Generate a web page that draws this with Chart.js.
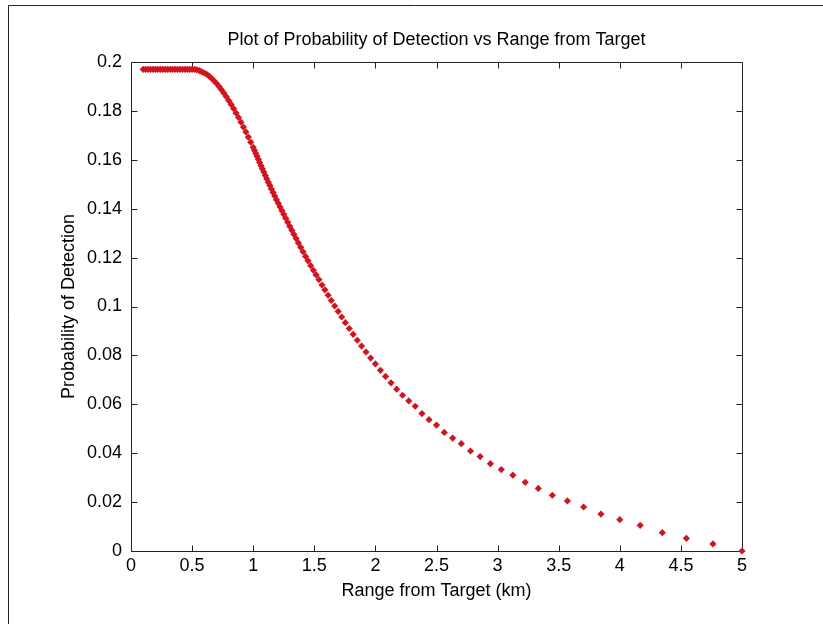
<!DOCTYPE html>
<html><head><meta charset="utf-8">
<script src="https://cdn.jsdelivr.net/npm/chart.js@4.4.0/dist/chart.umd.min.js"></script>
<style>html,body{margin:0;padding:0;background:#fff;}#wrap{position:relative;width:823px;height:624px;}</style>
</head><body><div id="wrap"><canvas id="c" width="823" height="624"></canvas></div>
<script>
const rangeKm = [
  0.10,0.12,0.14,0.16,0.18,0.20,0.22,0.24,0.26,0.28,0.30,0.32,0.34,0.36,0.38,0.40,0.42,0.44,0.46,0.48,0.50,0.52,
  0.54,0.56,0.58,0.60,0.62,0.64,0.66,0.68,0.70,0.72,0.74,0.76,0.78,0.80,0.82,0.84,0.86,0.88,0.90,0.92,0.94,0.96,0.98,
  1.000,1.010,1.020,1.031,1.042,1.053,1.064,1.075,1.087,1.099,1.111,1.124,1.136,1.149,1.163,1.176,1.190,1.205,1.220,1.235,
  1.250,1.266,1.282,1.299,1.316,1.333,1.351,1.370,1.389,1.408,1.429,1.449,1.471,1.493,1.515,1.538,1.563,1.587,1.613,1.639,
  1.667,1.695,1.724,1.754,1.786,1.818,1.852,1.887,1.923,1.961,2.000,2.041,2.083,2.128,2.174,
  2.222,2.273,2.326,2.381,2.439,2.500,2.564,2.632,2.703,2.778,2.857,2.941,3.030,3.125,3.226,3.333,3.448,3.571,3.704,3.846,
  4.000,4.167,4.348,4.545,4.762,5.000
];
const probDetection = [
  0.197,0.197,0.197,0.197,0.197,0.197,0.197,0.197,0.197,0.197,0.197,0.197,0.197,0.197,0.197,0.197,0.197,0.197,0.197,0.197,0.197,0.197,
  0.1968,0.1965,0.1960,0.1955,0.1950,0.1942,0.1933,0.1923,0.1912,0.1900,0.1887,0.1873,0.1858,0.1842,0.1826,0.1809,0.1791,0.1773,0.1754,0.1734,0.1714,0.1693,0.1672,
  0.1651,0.1639,0.1627,0.1615,0.1602,0.1589,0.1576,0.1563,0.1550,0.1536,0.1522,0.1508,0.1495,0.1481,0.1466,0.1452,0.1437,0.1422,0.1407,0.1392,
  0.1377,0.1361,0.1345,0.1328,0.1312,0.1295,0.1278,0.1260,0.1242,0.1224,0.1205,0.1187,0.1167,0.1148,0.1129,0.1110,0.1088,0.1068,0.1046,0.1025,
  0.1002,0.0980,0.0957,0.0934,0.0910,0.0886,0.0862,0.0838,0.0814,0.0789,0.0765,0.0739,0.0714,0.0688,0.0662,
  0.0637,0.0614,0.0592,0.0562,0.0537,0.0515,0.0485,0.0462,0.0439,0.0409,0.0386,0.0357,0.0333,0.0310,0.0281,0.0256,0.0228,0.0205,0.0180,0.0151,
  0.0128,0.0105,0.0075,0.0052,0.0029,0.0000
];
const xTicks = [0,0.5,1,1.5,2,2.5,3,3.5,4,4.5,5];
const xTickLabels = ['0','0.5','1','1.5','2','2.5','3','3.5','4','4.5','5'];
const yTicks = [0,0.02,0.04,0.06,0.08,0.1,0.12,0.14,0.16,0.18,0.2];
const yTickLabels = ['0','0.02','0.04','0.06','0.08','0.1','0.12','0.14','0.16','0.18','0.2'];
const chartTitle = 'Plot of Probability of Detection vs Range from Target';
const xTitle = 'Range from Target (km)';
const yTitle = 'Probability of Detection';

const FONT = {family:"'Liberation Sans', Arial, sans-serif", size:18, weight:'normal', lineHeight:1.2};
function labelFrom(ticks, labels, v){
  for (let i=0;i<ticks.length;i++) if (Math.abs(ticks[i]-v)<1e-9) return labels[i];
  return '';
}
const framePlugin = {
  id:'frame',
  beforeDraw(chart){
    const ctx = chart.ctx;
    ctx.save();
    ctx.strokeStyle = '#222'; ctx.lineWidth = 1;
    ctx.beginPath();
    ctx.moveTo(8.5, 624); ctx.lineTo(8.5, 5.5); ctx.lineTo(823, 5.5);
    ctx.stroke();
    ctx.restore();
  },
  beforeDatasetsDraw(chart){
    const {ctx, chartArea:a, scales:{x, y}} = chart;
    const L = Math.round(a.left)+0.5, R = Math.round(a.right)+0.5, T = Math.round(a.top)+0.5, B = Math.round(a.bottom)+0.5;
    const tl = 6;
    ctx.save();
    ctx.strokeStyle = '#222'; ctx.lineWidth = 1;
    ctx.beginPath();
    ctx.rect(L, T, R-L, B-T);
    xTicks.forEach(v => {
      const px = Math.round(x.getPixelForValue(v))+0.5;
      ctx.moveTo(px, B); ctx.lineTo(px, B-tl);
      ctx.moveTo(px, T); ctx.lineTo(px, T+tl);
    });
    yTicks.forEach(v => {
      const py = Math.round(y.getPixelForValue(v))+0.5;
      ctx.moveTo(L, py); ctx.lineTo(L+tl, py);
      ctx.moveTo(R, py); ctx.lineTo(R-tl, py);
    });
    ctx.stroke();
    ctx.restore();
  }
};

new Chart(document.getElementById('c').getContext('2d'), {
  type:'scatter',
  data:{datasets:[{
    data: rangeKm.map((r,i)=>({x:r, y:probDetection[i]})),
    pointStyle:'rectRot', pointRadius:3.6, pointBackgroundColor:'#d01520', pointBorderWidth:0,
    showLine:false, clip:false
  }]},
  options:{
    responsive:false, animation:false, devicePixelRatio:1,
    layout:{padding:{left:0,right:81,top:0,bottom:0}},
    plugins:{
      legend:{display:false}, tooltip:{enabled:false},
      title:{display:true, fullSize:false, text:chartTitle, color:'#000', font:FONT, padding:{top:29.2,bottom:11.2}}
    },
    scales:{
      x:{type:'linear', min:0, max:5,
        afterBuildTicks:s=>{s.ticks = xTicks.map(v=>({value:v}));},
        afterFit:s=>{s.height = 73;},
        ticks:{color:'#000', font:FONT, padding:4, maxRotation:0, autoSkip:false, callback:v=>labelFrom(xTicks,xTickLabels,v)},
        grid:{display:false, drawTicks:false}, border:{display:false},
        title:{display:true, text:xTitle, color:'#000', font:FONT, padding:{top:0,bottom:22}}
      },
      y:{type:'linear', min:0, max:0.2,
        afterBuildTicks:s=>{s.ticks = yTicks.map(v=>({value:v}));},
        afterFit:s=>{s.width = 131;},
        ticks:{color:'#000', font:FONT, padding:9, autoSkip:false, callback:v=>labelFrom(yTicks,yTickLabels,v)},
        grid:{display:false, drawTicks:false}, border:{display:false},
        title:{display:true, text:yTitle, color:'#000', font:FONT, padding:{top:58,bottom:0}}
      }
    }
  },
  plugins:[framePlugin]
});
</script></body></html>
